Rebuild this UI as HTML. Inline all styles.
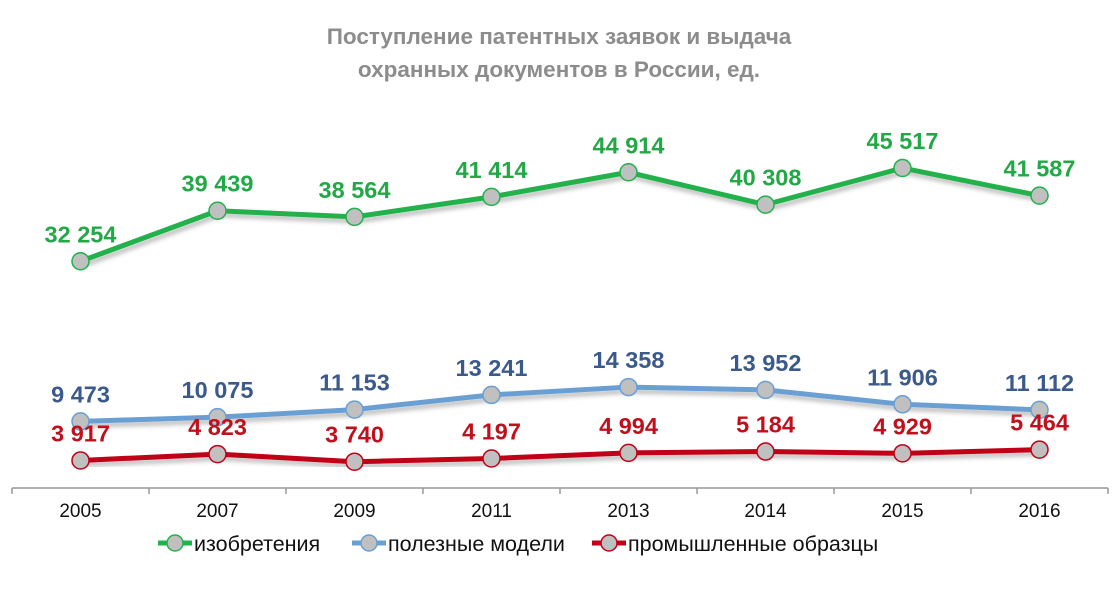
<!DOCTYPE html>
<html><head><meta charset="utf-8"><style>
body{margin:0;background:#fff;width:1118px;height:599px;overflow:hidden;font-family:"Liberation Sans",sans-serif}
</style></head><body>
<svg id="c" width="1118" height="599" font-family="Liberation Sans, sans-serif">
<defs><filter id="sh" x="-5%" y="-20%" width="110%" height="160%"><feDropShadow dx="2" dy="4" stdDeviation="2" flood-color="#000" flood-opacity="0.25"/></filter></defs>
<text x="559" y="44" text-anchor="middle" font-size="22.5" font-weight="bold" fill="#8c8c8c">Поступление патентных заявок и выдача</text>
<text x="559" y="77" text-anchor="middle" font-size="22.5" font-weight="bold" fill="#8c8c8c">охранных документов в России, ед.</text>
<g id="axis"></g><g id="series"></g><g id="legend"></g>
</svg>
<script>
const categories=["2005","2007","2009","2011","2013","2014","2015","2016"];
const inventions=[32254,39439,38564,41414,44914,40308,45517,41587];
const utilityModels=[9473,10075,11153,13241,14358,13952,11906,11112];
const designs=[3917,4823,3740,4197,4994,5184,4929,5464];
const seriesNames=["изобретения","полезные модели","промышленные образцы"];
const NS="http://www.w3.org/2000/svg";
const x0=12,step=137,y0=488,k=0.00703;
const xs=i=>x0+step*(i+0.5), ys=v=>y0-v*k;
function mk(t,a,p){const e=document.createElementNS(NS,t);for(const n in a)e.setAttribute(n,a[n]);p.appendChild(e);return e;}
const ax=document.getElementById('axis');
const axl=mk('line',{x1:x0,y1:y0,x2:x0+step*8,y2:y0,stroke:'#999','stroke-width':1.5},ax);


for(let i=0;i<=8;i++){const t=mk('line',{x1:x0+step*i,y1:y0,x2:x0+step*i,y2:y0+6,stroke:'#999','stroke-width':1.5},ax);

}
categories.forEach((c,i)=>{const t=mk('text',{x:xs(i),y:517,'text-anchor':'middle','font-size':19,fill:'#111'},ax);t.textContent=c;

});
const S=[[inventions,'#22b14c','#22a846'],[utilityModels,'#6a9fd4','#3b5a8a'],[designs,'#c00018','#c0101c']];
const sg=document.getElementById('series');
S.forEach(([d,col,tc],si)=>{
 const g=mk('g',{},sg);
 
 
 const l=mk('polyline',{points:d.map((v,i)=>xs(i)+','+ys(v)).join(' '),fill:'none',stroke:col,'stroke-width':5,'stroke-linejoin':'round',filter:'url(#sh)'},g);
 
 
 d.forEach((v,i)=>{
  const c=mk('circle',{cx:xs(i),cy:ys(v),r:8.5,fill:'#c0c0c0',stroke:col,'stroke-width':1.5},g);
  
  
  const t=mk('text',{x:xs(i),y:ys(v)-19,'text-anchor':'middle','font-size':23.5,'font-weight':'bold',fill:tc},g);
  t.textContent=v.toLocaleString('ru-RU').replace(/\s/g,' ');
  
  
 });
});
const lg=document.getElementById('legend');
const lx=[158,352,592];
S.forEach(([d,col],si)=>{
 const g=mk('g',{},lg);
 
 
 mk('line',{x1:lx[si],y1:543,x2:lx[si]+34,y2:543,stroke:col,'stroke-width':5},g);
 mk('circle',{cx:lx[si]+17,cy:543,r:8,fill:'#c0c0c0',stroke:col,'stroke-width':1.5},g);
 const t=mk('text',{x:lx[si]+36,y:551,'font-size':21.5,fill:'#111'},g);t.textContent=seriesNames[si];
});
</script>
</body></html>
